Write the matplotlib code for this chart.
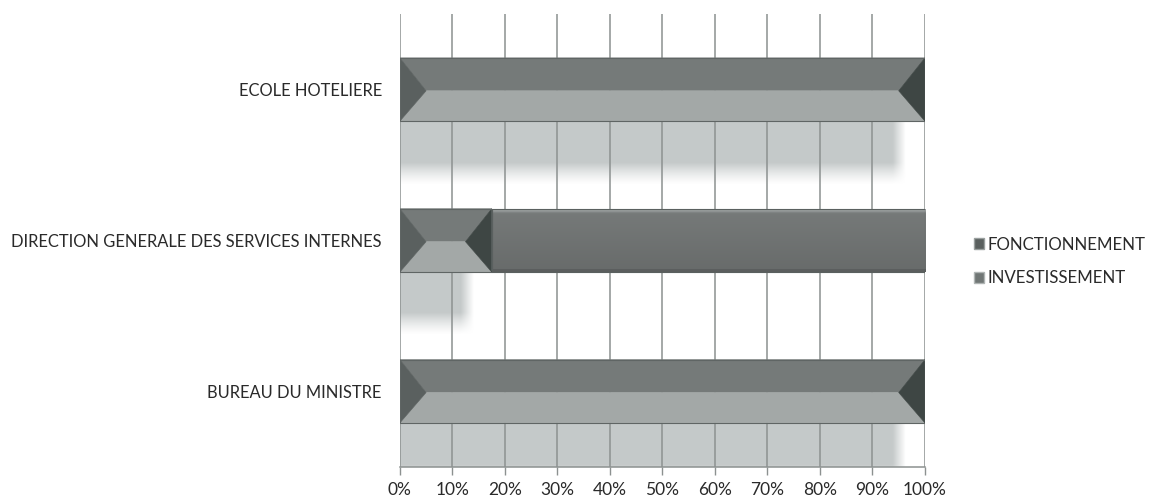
import numpy as np
import matplotlib
matplotlib.use("Agg")
import matplotlib.pyplot as plt
from matplotlib.patches import Polygon, Rectangle, Patch

plt.rcParams['font.family'] = ['Lato', 'DejaVu Sans']

# Budget share per unit (percent of total), listed top to bottom
categories = ["ECOLE HOTELIERE",
              "DIRECTION GENERALE DES SERVICES INTERNES",
              "BUREAU DU MINISTRE"]
fonctionnement = [100.0, 17.5, 100.0]
investissement = [0.0, 82.5, 0.0]
xticks = [0, 10, 20, 30, 40, 50, 60, 70, 80, 90, 100]
xtick_labels = [f"{t}%" for t in xticks]
series_names = ["FONCTIONNEMENT", "INVESTISSEMENT"]

TEXT = "#2a2a2a"
GRID = "#8c9190"
BEV_TOP = "#757a79"
BEV_BOT = "#a3a8a7"
BEV_LEFT = "#5a605f"
BEV_RIGHT = "#3e4644"
INV_MID = "#707675"
REFL = (0.76, 0.78, 0.78)

fig = plt.figure(figsize=(11.49, 5.04), dpi=100)
ax = fig.add_axes([0.348, 0.074, 0.457, 0.898])

ypos = np.arange(len(categories))
bar_h = 0.42
bevel_d = 5.0  # bevel depth along x, in axis units


def draw_bevel(x0, w, yc, h):
    yt, yb, ym = yc - h / 2, yc + h / 2, yc + 0.02 * h
    d = min(bevel_d, w / 2)
    x1 = x0 + w
    polys = [
        ([(x0, yt), (x1, yt), (x1 - d, ym), (x0 + d, ym)], BEV_TOP),
        ([(x0, yb), (x1, yb), (x1 - d, ym), (x0 + d, ym)], BEV_BOT),
        ([(x0, yt), (x0, yb), (x0 + d, ym)], BEV_LEFT),
        ([(x1, yt), (x1, yb), (x1 - d, ym)], BEV_RIGHT),
    ]
    for pts, c in polys:
        ax.add_patch(Polygon(pts, closed=True, facecolor=c, edgecolor=c,
                             linewidth=0.4, zorder=3))
    ax.add_patch(Rectangle((x0, yt), w, h, fill=False, edgecolor="#5f6564",
                           linewidth=0.8, zorder=4))


def draw_cylinder(x0, w, yc, h):
    # vertical shading: light rim at the top, darker toward the bottom
    t = np.linspace(0, 1, 64)
    shade = 0.48 - 0.06 * t + 0.14 * np.exp(-((t - 0.03) / 0.03) ** 2)
    shade[-3:] -= 0.05
    img = np.stack([shade * 0.97, shade, shade * 0.995], axis=-1)
    img = np.repeat(img[:, None, :], 2, axis=1)
    im = ax.imshow(img, extent=[x0, x0 + w, yc + h / 2, yc - h / 2],
                   aspect="auto", interpolation="bilinear", zorder=3)
    rect = Rectangle((x0, yc - h / 2), w, h, facecolor="none",
                     edgecolor="#5a605f", linewidth=0.8, zorder=4)
    ax.add_patch(rect)
    im.set_clip_path(rect)


def draw_reflection(w, yc, h):
    if w <= 0:
        return
    w = max(w - 3.5, 1.0)
    rh = 0.42
    ny, nx = 80, 200
    ty = np.linspace(0, 1, ny)[:, None]
    tx = np.linspace(0, 1, nx)[None, :]
    a = np.clip((1.0 - ty) / 0.35, 0, 1) ** 1.3 * 0.95
    a = a * np.clip((1.0 - tx) * w / 2.5, 0, 1)
    img = np.zeros((ny, nx, 4))
    img[..., 0], img[..., 1], img[..., 2] = REFL
    img[..., 3] = a
    ax.imshow(img, extent=[0, w, yc + h / 2 + rh, yc + h / 2],
              aspect="auto", interpolation="bilinear", zorder=1)


for i in range(len(categories)):
    draw_reflection(fonctionnement[i], ypos[i], bar_h)
    if fonctionnement[i] > 0:
        draw_bevel(0, fonctionnement[i], ypos[i], bar_h)
    if investissement[i] > 0:
        draw_cylinder(fonctionnement[i], investissement[i], ypos[i], bar_h)

ax.set_xlim(0, 100)
ax.set_ylim(len(categories) - 0.5, -0.5)
ax.set_xticks(xticks)
ax.set_xticklabels(xtick_labels, fontsize=12.5, color=TEXT)
ax.set_yticks(ypos)
ax.set_yticklabels(categories, fontsize=11.9, color=TEXT)
ax.tick_params(axis="y", length=0, pad=13)
ax.tick_params(axis="x", length=6, width=1, color=GRID, direction="out", pad=5)
ax.grid(axis="x", color=GRID, linewidth=1.1, zorder=2)
ax.set_axisbelow(False)
for gl in ax.get_xgridlines():
    gl.set_zorder(2)
for s in ["top", "right", "left"]:
    ax.spines[s].set_visible(False)
ax.spines["bottom"].set_color(GRID)
ax.spines["bottom"].set_linewidth(1.1)

handles = [Patch(facecolor=BEV_LEFT, edgecolor="#9aa09f", linewidth=1.0),
           Patch(facecolor=INV_MID, edgecolor="#b0b5b4", linewidth=1.0)]
fig.legend(handles, series_names, loc="upper left",
           bbox_to_anchor=(0.834, 0.561), frameon=False, fontsize=12.2,
           handlelength=0.6, handleheight=0.6, handletextpad=0.2,
           labelspacing=1.05, labelcolor=TEXT)

fig.savefig("out.png", dpi=100, facecolor="white")
